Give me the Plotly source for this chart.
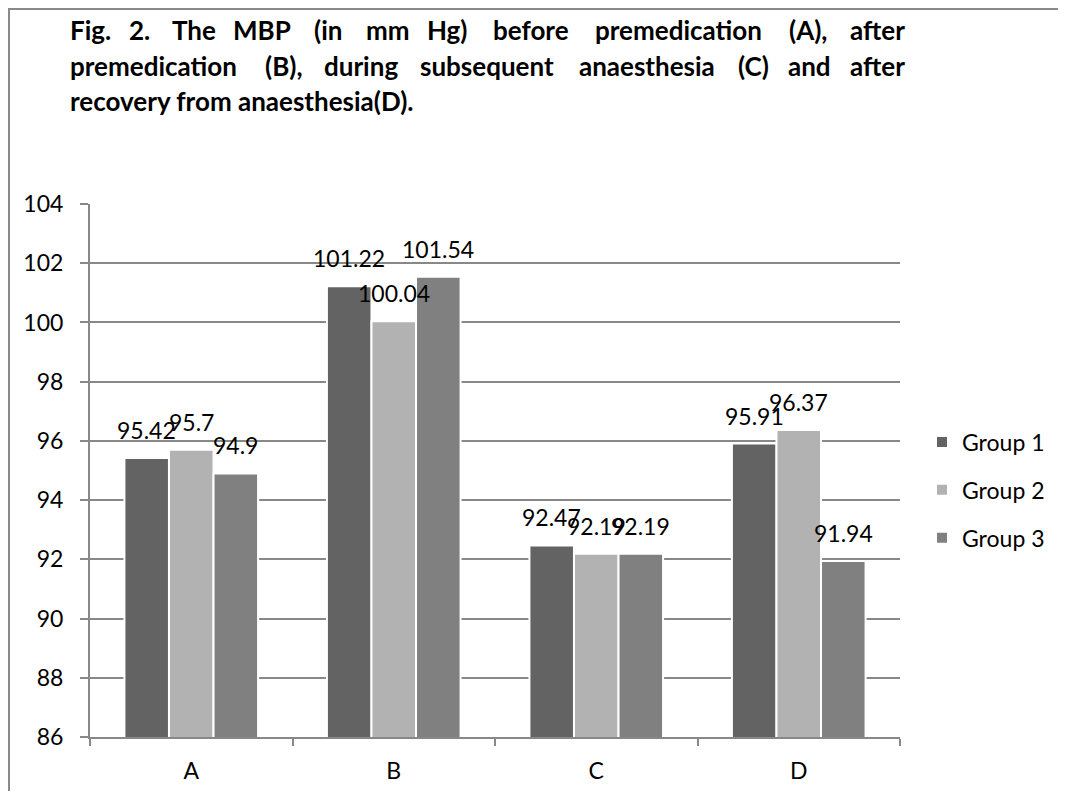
import plotly.graph_objects as go

categories = ["A", "B", "C", "D"]
group_names = ["Group 1", "Group 2", "Group 3"]
group1 = [95.42, 101.22, 92.47, 95.91]
group2 = [95.7, 100.04, 92.19, 96.37]
group3 = [94.9, 101.54, 92.19, 91.94]
series = [group1, group2, group3]
colors = ["#636363", "#b2b2b2", "#808080"]
y_range = [86, 104]
y_dtick = 2

title_line1 = ["Fig.", "2.", "The", "MBP", "(in", "mm", "Hg)", "before", "premedication", "(A),", "after"]
title_line1_x = [68, 139, 194, 262, 328, 388, 447, 531, 678, 808, 907]
title_line2 = ["premedication", "(B),", "during", "subsequent", "anaesthesia", "(C)", "and", "after"]
title_line2_x = [68, 283, 361, 487, 647, 753, 809, 907]
title_line3 = "recovery from anaesthesia(D)."

# page has an 8px body margin; figure sized to fit the window
OFF = 8
W, H = 1066 - 2 * OFF, 799 - 2 * OFF
# plot area in page pixels
L, R, T, B = 90, 900, 204, 737
bargap = 0.34

def px_x(px):
    return (px - L) / (R - L)

def px_y(py):
    return (B - py) / (B - T)

FONT = "Lato"
fig = go.Figure()
for name, vals, col in zip(group_names, series, colors):
    fig.add_trace(go.Bar(
        x=categories, y=vals, name=name, legendgroup=name,
        marker=dict(color=col, line=dict(color="white", width=2)),
    ))

annotations = []
bar_w = (R - L) / len(categories) * (1 - bargap) / len(series)
for gi, vals in enumerate(series):
    off = (gi - (len(series) - 1) / 2) * bar_w
    for c, v in zip(categories, vals):
        annotations.append(dict(
            x=c, y=v, xref="x", yref="y", text=f"{v:g}", showarrow=False,
            xanchor="center", yanchor="bottom", xshift=off, yshift=12,
            font=dict(family=FONT, size=23, color="#000000"),
        ))

def title_word(txt, xpx, ypx, anchor):
    return dict(x=px_x(xpx), y=px_y(ypx), xref="paper", yref="paper", text=txt,
                showarrow=False, xanchor=anchor, yanchor="middle",
                font=dict(family=FONT, size=26, color="#000000", weight="bold"))

for line, xs, ypx in [(title_line1, title_line1_x, 30), (title_line2, title_line2_x, 66)]:
    for i, (w, xp) in enumerate(zip(line, xs)):
        anchor = "left" if i == 0 else ("right" if i == len(line) - 1 else "center")
        annotations.append(title_word(w, xp, ypx, anchor))
annotations.append(title_word(title_line3, 68, 101, "left"))

shapes = [
    dict(type="line", xref="paper", yref="paper", x0=px_x(9), x1=px_x(9), y0=px_y(8), y1=px_y(799),
         line=dict(color="#8a8a8a", width=2)),
    dict(type="line", xref="paper", yref="paper", x0=px_x(8), x1=px_x(1066), y0=px_y(9), y1=px_y(9),
         line=dict(color="#8a8a8a", width=2)),
]

grid = "#888888"
fig.update_layout(
    width=W, height=H,
    margin=dict(l=L - OFF, r=W - (R - OFF), t=T - OFF, b=H - (B - OFF), pad=0, autoexpand=False),
    paper_bgcolor="white", plot_bgcolor="white",
    barmode="group", bargap=bargap, bargroupgap=0,
    font=dict(family=FONT, size=23, color="#000000"),
    annotations=annotations, shapes=shapes,
    legend=dict(x=px_x(922), y=px_y(490), xanchor="left", yanchor="middle",
                xref="paper", yref="paper", tracegroupgap=15, itemwidth=30,
                font=dict(family=FONT, size=23, color="#000000")),
    xaxis=dict(type="category", tickson="boundaries", ticks="outside", ticklen=7,
               tickcolor=grid, tickwidth=2, showline=True, linecolor=grid, linewidth=2,
               showgrid=False, ticklabelstandoff=12,
               tickfont=dict(family=FONT, size=23, color="#000000")),
    yaxis=dict(range=y_range, dtick=y_dtick, ticks="outside", ticklen=8, tickcolor=grid,
               tickwidth=2, showline=True, linecolor=grid, linewidth=2, showgrid=True,
               gridcolor=grid, gridwidth=2, zeroline=False, ticklabelstandoff=12,
               tickfont=dict(family=FONT, size=23, color="#000000")),
)

fig.write_html("out.html")
